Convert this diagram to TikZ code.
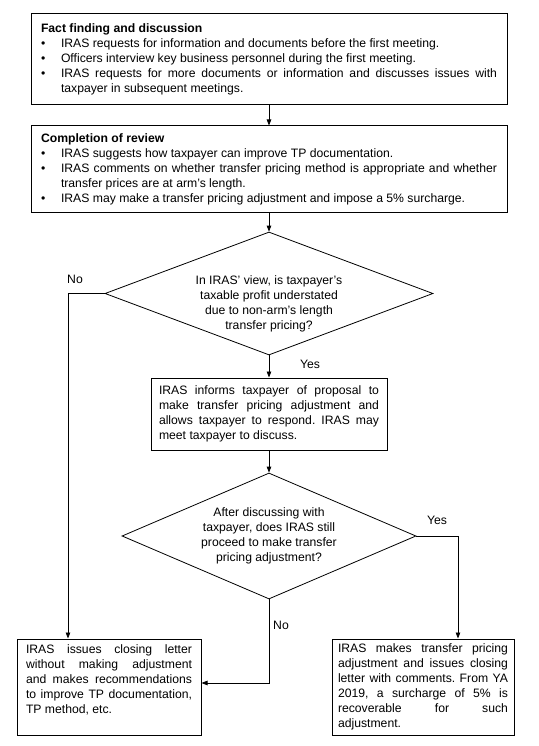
\documentclass[tikz,border=0pt]{standalone}
\usepackage{fontspec}
\setmainfont{Liberation Sans}
\usepackage{enumitem}
\usetikzlibrary{arrows.meta,shapes.geometric}
\newcommand{\flowfont}{\fontsize{12.2}{15}\selectfont\frenchspacing\hyphenpenalty=10000\exhyphenpenalty=10000\tolerance=9999\relax}
\setlist[itemize]{label=\textbullet,leftmargin=20pt,labelindent=0pt,labelwidth=5pt,labelsep=15pt,align=left,topsep=0pt,itemsep=0pt,parsep=0pt,partopsep=0pt}

\begin{document}
\begin{tikzpicture}[x=1pt,y=-1pt,box/.style={draw,line width=1pt,align=justify,inner xsep=10pt,inner ysep=4pt,font=\flowfont},decision/.style={diamond,draw,line width=0.8pt,align=center,inner sep=0pt,font=\flowfont},lbl/.style={inner sep=0pt,font=\flowfont},flow/.style={-{Triangle[length=6pt,width=4.5pt]},line width=0.8pt}]
\useasboundingbox (0,0) rectangle (538,746);
\node[box,text width=456pt,minimum height=91pt] (fact) at (269,59.5) {\textbf{Fact finding and discussion}
\begin{itemize}
\item IRAS requests for information and documents before the first meeting.
\item Officers interview key business personnel during the first meeting.
\item IRAS requests for more documents or information and discusses issues with taxpayer in subsequent meetings.
\end{itemize}};
\node[box,text width=456pt,minimum height=86pt] (review) at (269,169) {\textbf{Completion of review}
\begin{itemize}
\item IRAS suggests how taxpayer can improve TP documentation.
\item IRAS comments on whether transfer pricing method is appropriate and whether transfer prices are at arm’s length.
\item IRAS may make a transfer pricing adjustment and impose a 5\% surcharge.
\end{itemize}};
\node[decision,minimum width=328pt,minimum height=123pt] (q1) at (269,293.5) {};
\node[lbl,align=center] (q1text) at (269,304) {In IRAS’ view, is taxpayer’s\\taxable profit understated\\due to non-arm’s length\\transfer pricing?};
\node[box,text width=220pt,inner xsep=8pt,minimum height=72pt] (inform) at (269,414) {IRAS informs taxpayer of proposal to\linebreak make transfer pricing adjustment and\linebreak allows taxpayer to respond. IRAS may\linebreak meet taxpayer to discuss.};
\node[decision,minimum width=294pt,minimum height=126pt,shape aspect=2.33] (q2) at (269,536) {After discussing with\\taxpayer, does IRAS still\\proceed to make transfer\\pricing adjustment?};
\node[box,text width=166pt,inner xsep=9pt,minimum height=96pt] (noadj) at (109,687) {IRAS issues closing letter\linebreak without making adjustment\linebreak and makes recommendations\linebreak to improve TP documentation,\linebreak TP method, etc.\par\mbox{}};
\node[box,text width=170pt,inner xsep=6pt,minimum height=96pt] (adjust) at (423,687) {IRAS makes transfer pricing\linebreak adjustment and issues closing\linebreak letter with comments. From YA\linebreak 2019, a surcharge of 5\% is\linebreak recoverable for such\linebreak adjustment.};
\coordinate (leftbend) at (68,0);
\coordinate (rightbend) at (458,0);
\coordinate (nojoin) at (0,683);
\draw[flow] (fact.south) -- (review.north);
\draw[flow] (review.south) -- (q1.north);
\draw[flow] (q1.south) -- (inform.north);
\draw[flow] (inform.south) -- (q2.north);
\draw[flow] (q1.west) -| (leftbend |- noadj.north);
\draw[flow] (q2.east) -| (rightbend |- adjust.north);
\draw[flow] (q2.south) |- (nojoin -| noadj.east);
\node[lbl] (noleft) at (75,279) {No};
\node[lbl] (yestop) at (310,364) {Yes};
\node[lbl] (yesright) at (437,520) {Yes};
\node[lbl] (nobottom) at (281,625) {No};
\end{tikzpicture}
\end{document}
